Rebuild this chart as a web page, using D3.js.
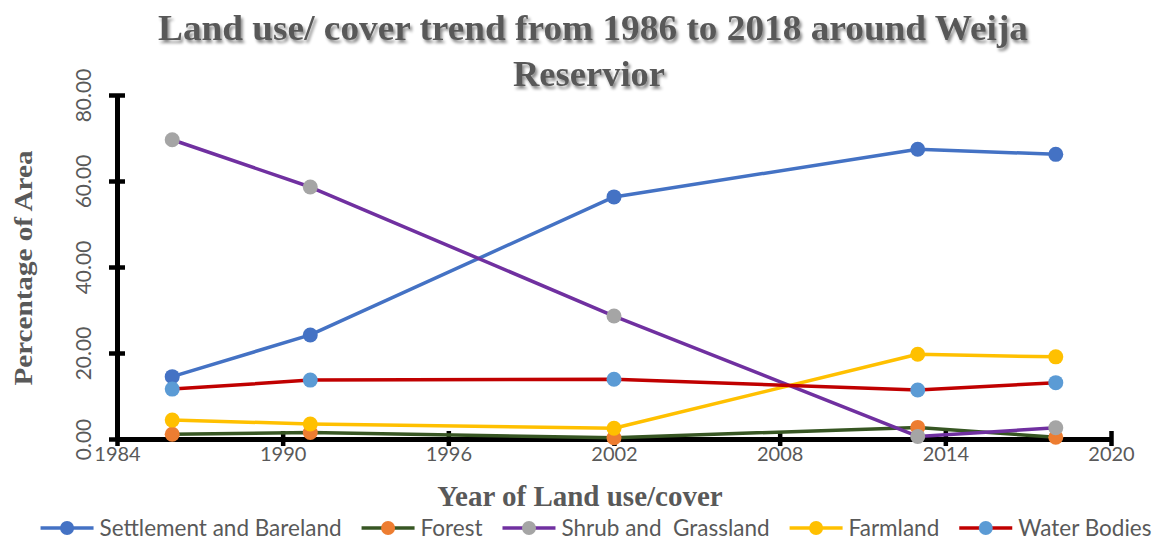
<!DOCTYPE html>
<html>
<head>
<meta charset="utf-8">
<script src="https://cdn.jsdelivr.net/npm/d3@7"></script>
<style>
  html, body { margin: 0; padding: 0; background: #fff; }
  svg { display: block; }
</style>
</head>
<body>
<svg id="chart" width="1156" height="541"></svg>
<script>
// ---- Data ----
const years = [1986, 1991, 2002, 2013, 2018];
const settlement = [14.5, 24.2, 56.3, 67.4, 66.2];
const forest = [1.1, 1.5, 0.3, 2.7, 0.4];
const shrub = [69.6, 58.6, 28.6, 0.6, 2.6];
const farmland = [4.4, 3.5, 2.5, 19.7, 19.1];
const water = [11.6, 13.7, 13.9, 11.4, 13.1];
const seriesNames = ["Settlement and Bareland", "Forest", "Shrub and  Grassland", "Farmland", "Water Bodies"];
const xTicks = [1984, 1990, 1996, 2002, 2008, 2014, 2020];
const yTicks = [0, 20, 40, 60, 80];
const titleLines = ["Land use/ cover trend from 1986 to 2018 around Weija", "Reservior"];
const xTitle = "Year of Land use/cover";
const yTitle = "Percentage of  Area";

// ---- Styles ----
const lineColors = ["#4472C4", "#375623", "#7030A0", "#FFC000", "#C00000"];
const markerColors = ["#4472C4", "#ED7D31", "#A5A5A5", "#FFC000", "#5B9BD5"];
const seriesValues = [settlement, forest, shrub, farmland, water];

const svg = d3.select("#chart");
const defs = svg.append("defs");
const f = defs.append("filter").attr("id", "shadow").attr("x", "-5%").attr("y", "-20%").attr("width", "110%").attr("height", "150%");
f.append("feDropShadow").attr("dx", 2).attr("dy", 3).attr("stdDeviation", 1.8)
  .attr("flood-color", "#000").attr("flood-opacity", 0.45);

const x = d3.scaleLinear().domain([1984, 2020]).range([117, 1111]);
const y = d3.scaleLinear().domain([0, 80]).range([439, 95]);

// ---- Title ----
const serif = "'Liberation Serif', 'Times New Roman', serif";
svg.append("text").attr("x", 593).attr("y", 40).attr("text-anchor", "middle")
  .attr("font-family", serif).attr("font-weight", "bold").attr("font-size", 36)
  .attr("fill", "#595959").attr("filter", "url(#shadow)")
  .attr("textLength", 870).attr("lengthAdjust", "spacingAndGlyphs")
  .text(titleLines[0]);
svg.append("text").attr("x", 589).attr("y", 86).attr("text-anchor", "middle")
  .attr("font-family", serif).attr("font-weight", "bold").attr("font-size", 36)
  .attr("fill", "#595959").attr("filter", "url(#shadow)")
  .attr("textLength", 152).attr("lengthAdjust", "spacingAndGlyphs")
  .text(titleLines[1]);

// ---- Axes ----
const sans = "Lato, 'Open Sans', sans-serif";
const xAxis = svg.append("g").attr("transform", `translate(0,${y(0)})`)
  .call(d3.axisBottom(x).tickValues(xTicks).tickFormat(d3.format("d")).tickSizeOuter(0));
xAxis.select(".domain").attr("stroke", "#000").attr("stroke-width", 5);
xAxis.selectAll(".tick line").attr("stroke", "#000").attr("stroke-width", 4.5).attr("y1", -8).attr("y2", 7);
xAxis.selectAll(".tick text").attr("y", 22).attr("dy", 0)
  .attr("font-family", sans).attr("font-size", 20).attr("fill", "#595959");

const yAxis = svg.append("g").attr("transform", `translate(${x(1984)},0)`)
  .call(d3.axisLeft(y).tickValues(yTicks).tickFormat(d3.format(".2f")).tickSizeOuter(0));
yAxis.select(".domain").attr("stroke", "#000").attr("stroke-width", 5);
yAxis.selectAll(".tick line").attr("stroke", "#000").attr("stroke-width", 4.5).attr("x1", -8).attr("x2", 8);
yAxis.selectAll(".tick text").attr("x", 0).attr("dy", 0).attr("text-anchor", "middle")
  .attr("transform", "translate(-26,0) rotate(-90)")
  .attr("font-family", sans).attr("font-size", 21).attr("fill", "#595959");

// Axis titles
svg.append("text").attr("x", 580).attr("y", 506).attr("text-anchor", "middle")
  .attr("font-family", serif).attr("font-weight", "bold").attr("font-size", 29)
  .attr("fill", "#595959").text(xTitle);
svg.append("text").attr("transform", "translate(32,268) rotate(-90)").attr("text-anchor", "middle")
  .attr("font-family", serif).attr("font-weight", "bold").attr("font-size", 26)
  .attr("fill", "#595959").attr("textLength", 235).attr("lengthAdjust", "spacingAndGlyphs")
  .text(yTitle);

// ---- Series ----
const line = d3.line().x(d => x(d[0])).y(d => y(d[1]));
seriesValues.forEach((vals, i) => {
  const pts = years.map((yr, j) => [yr, vals[j]]);
  const g = svg.append("g");
  g.append("path").datum(pts).attr("d", line).attr("fill", "none")
    .attr("stroke", lineColors[i]).attr("stroke-width", 3.5).attr("stroke-linejoin", "round");
  g.selectAll("circle").data(pts).join("circle")
    .attr("cx", d => x(d[0])).attr("cy", d => y(d[1])).attr("r", 7.5)
    .attr("fill", markerColors[i]);
});

// ---- Legend ----
const legend = svg.append("g");
const items = [];
seriesNames.forEach((name, i) => {
  const g = legend.append("g");
  g.append("line").attr("x1", 0).attr("x2", 53).attr("y1", 0).attr("y2", 0)
    .attr("stroke", lineColors[i]).attr("stroke-width", 3.5);
  g.append("circle").attr("cx", 26.5).attr("cy", 0).attr("r", 7).attr("fill", markerColors[i]);
  const t = g.append("text").attr("x", 59).attr("y", 7.5).attr("font-family", sans)
    .attr("font-size", 22.5).attr("fill", "#595959").attr("xml:space", "preserve")
    .style("white-space", "pre").text(name);
  items.push({ g, w: 59 + t.node().getComputedTextLength() });
});
const gap = 20;
const total = d3.sum(items, d => d.w) + gap * (items.length - 1);
let cx = 596 - total / 2;
items.forEach(it => {
  it.g.attr("transform", `translate(${cx},528)`);
  cx += it.w + gap;
});
</script>
</body>
</html>
